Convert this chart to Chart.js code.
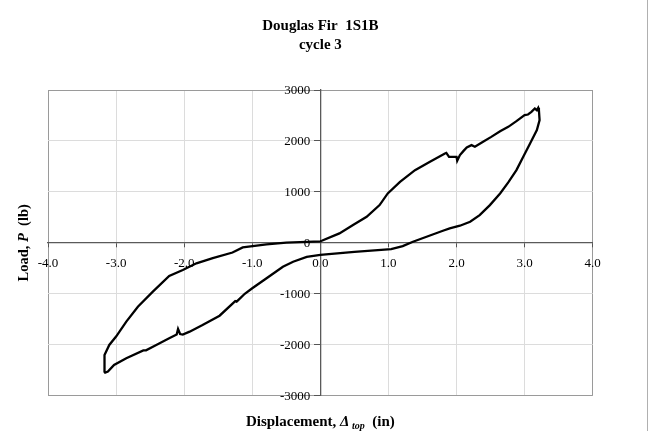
<!DOCTYPE html>
<html>
<head>
<meta charset="utf-8">
<script src="https://cdn.jsdelivr.net/npm/chart.js@4.4.1/dist/chart.umd.min.js"></script>
<style>
  html, body { margin: 0; padding: 0; background: #fff; }
  #wrap { width: 650px; height: 431px; position: relative; }
</style>
</head>
<body>
<div id="wrap"><canvas id="loopChart"></canvas></div>
<script>
// --- Data ---
const titleLines = ['Douglas Fir  1S1B', 'cycle 3'];
const xTicks = [-4, -3, -2, -1, 0, 1, 2, 3, 4];
const yTicks = [-3000, -2000, -1000, 0, 1000, 2000, 3000];

// displacement (in) and load (lb), in drawing order around the loop
const displacement = [
  0.02, 0.28, 0.48, 0.68, 0.87, 0.99, 1.17, 1.39, 1.61, 1.83, 1.85, 1.89, 2.00, 2.01, 2.05, 2.10,
  2.15, 2.22, 2.27, 2.39, 2.51, 2.64, 2.76, 2.88, 3.00, 3.05, 3.10, 3.15, 3.18, 3.20, 3.21, 3.22,
  3.18, 3.08, 2.98, 2.88, 2.76, 2.64, 2.49, 2.34, 2.20, 2.05, 1.90, 1.80, 1.56, 1.36, 1.21, 1.04,
  0.50, 0.00, -0.20, -0.40, -0.55, -0.79, -1.00, -1.11, -1.21, -1.23, -1.25, -1.48, -1.73, -1.92,
  -2.02, -2.06, -2.09, -2.11, -2.22, -2.41, -2.56, -2.60, -2.85, -3.03, -3.12, -3.16, -3.17, -3.17,
  -3.10, -3.00, -2.85, -2.68, -2.46, -2.22, -2.02, -1.82, -1.58, -1.29, -1.14, -0.79, -0.50, 0.00, 0.02
];
const load = [
  40, 186, 349, 512, 741, 970, 1198, 1427, 1590, 1755, 1767, 1688, 1688, 1610, 1722, 1800,
  1872, 1918, 1885, 1983, 2080, 2192, 2277, 2388, 2506, 2519, 2571, 2637, 2604, 2650, 2604, 2408,
  2212, 1951, 1688, 1427, 1186, 970, 741, 545, 414, 336, 284, 237, 120, 22, -63, -122,
  -178, -235, -275, -370, -468, -696, -892, -1000, -1130, -1155, -1145, -1430, -1612, -1743,
  -1800, -1790, -1690, -1800, -1873, -2004, -2110, -2110, -2265, -2396, -2527, -2546, -2530, -2200,
  -2004, -1840, -1547, -1253, -958, -651, -533, -402, -300, -190, -90, -29, 5, 30, 40
];

const SERIF = '"Liberation Serif", "Times New Roman", serif';

// y tick labels: the axis sits at x = 0, labels go just left of its tick marks
const yTickLabels = {
  id: 'yTickLabels',
  beforeDatasetsDraw(chart) {
    const ctx = chart.ctx;
    const ys = chart.scales.y;
    const xAt = chart.scales.x.getPixelForValue(0) - 10;
    ctx.save();
    ctx.fillStyle = '#000';
    ctx.font = `13px ${SERIF}`;
    ctx.textAlign = 'right';
    ctx.textBaseline = 'middle';
    ys.ticks.forEach(t => {
      ctx.fillText(String(t.value), xAt, ys.getPixelForValue(t.value) + 1);
    });
    ctx.restore();
  }
};

// axis titles with italic / subscript parts, drawn at the plot edges
const axisTitles = {
  id: 'axisTitles',
  afterDraw(chart) {
    const ctx = chart.ctx;
    const area = chart.chartArea;

    const drawParts = (parts, cx, cy) => {
      let total = 0;
      parts.forEach(p => { ctx.font = p.font; total += ctx.measureText(p.text).width; });
      let x = cx - total / 2;
      parts.forEach(p => {
        ctx.font = p.font;
        ctx.fillText(p.text, x, cy + (p.dy || 0));
        x += ctx.measureText(p.text).width;
      });
    };

    ctx.save();
    ctx.fillStyle = '#000';
    ctx.textBaseline = 'middle';
    ctx.textAlign = 'left';

    // x title
    drawParts([
      { text: 'Displacement, ', font: `bold 15px ${SERIF}` },
      { text: '\u0394', font: `italic bold 15px ${SERIF}` },
      { text: ' top', font: `italic bold 10px ${SERIF}`, dy: 4 },
      { text: '  (in)', font: `bold 15px ${SERIF}` }
    ], (area.left + area.right) / 2, 422);

    // y title
    ctx.translate(24, (area.top + area.bottom) / 2);
    ctx.rotate(-Math.PI / 2);
    drawParts([
      { text: 'Load, ', font: `bold 14.5px ${SERIF}` },
      { text: 'P', font: `italic bold 14.5px ${SERIF}` },
      { text: '  (lb)', font: `bold 14.5px ${SERIF}` }
    ], 0, 0);
    ctx.restore();

    // thin frame line on the right edge of the picture
    ctx.save();
    ctx.strokeStyle = '#b0b0b0';
    ctx.lineWidth = 1;
    ctx.beginPath();
    ctx.moveTo(647.5, 0);
    ctx.lineTo(647.5, chart.height);
    ctx.stroke();
    ctx.restore();
  }
};

const whiteBg = {
  id: 'whiteBg',
  beforeDraw(chart) {
    const ctx = chart.ctx;
    ctx.save();
    ctx.fillStyle = '#fff';
    ctx.fillRect(0, 0, chart.width, chart.height);
    ctx.restore();
  }
};

function gridColor(ctx, edges) {
  const v = ctx.tick && ctx.tick.value;
  if (v === edges[0] || v === edges[1]) return '#9a9a9a';
  return '#dcdcdc';
}

window.onload = () => {
  const points = displacement.map((x, i) => ({ x: x, y: load[i] }));
  const el = document.getElementById('loopChart');

  new Chart(el.getContext('2d'), {
    type: 'scatter',
    data: {
      datasets: [{
        data: points,
        showLine: true,
        borderColor: '#000',
        borderWidth: 2.3,
        pointRadius: 0,
        tension: 0,
        fill: false
      }]
    },
    options: {
      responsive: true,
      maintainAspectRatio: false,
      animation: false,
      layout: { padding: { left: 48, right: 57.3, top: 0, bottom: 35.3 } },
      plugins: {
        legend: { display: false },
        tooltip: { enabled: false },
        title: {
          display: true,
          text: titleLines,
          color: '#000',
          font: { family: SERIF, size: 15, weight: 'bold', lineHeight: 1.27 },
          padding: { top: 16.5, bottom: 35.4 }
        }
      },
      scales: {
        x: {
          type: 'linear',
          position: { y: 0 },
          min: xTicks[0],
          max: xTicks[xTicks.length - 1],
          afterBuildTicks: (axis) => { axis.ticks = xTicks.map(v => ({ value: v })); },
          grid: {
            color: (c) => gridColor(c, [xTicks[0], xTicks[xTicks.length - 1]]),
            tickColor: '#555',
            tickLength: 4
          },
          border: { display: true, color: '#5a5a5a', width: 1.3 },
          ticks: {
            color: '#000',
            padding: 9,
            maxRotation: 0,
            font: { family: SERIF, size: 13 },
            callback: (v) => Number(v).toFixed(1)
          }
        },
        y: {
          type: 'linear',
          position: { x: 0 },
          min: yTicks[0],
          max: yTicks[yTicks.length - 1],
          afterBuildTicks: (axis) => { axis.ticks = yTicks.map(v => ({ value: v })); },
          grid: {
            color: (c) => gridColor(c, [yTicks[0], yTicks[yTicks.length - 1]]),
            tickColor: '#555',
            tickLength: 6
          },
          border: { display: true, color: '#5a5a5a', width: 1.3 },
          ticks: { display: false }
        }
      }
    },
    plugins: [whiteBg, yTickLabels, axisTitles]
  });
};
</script>
</body>
</html>
